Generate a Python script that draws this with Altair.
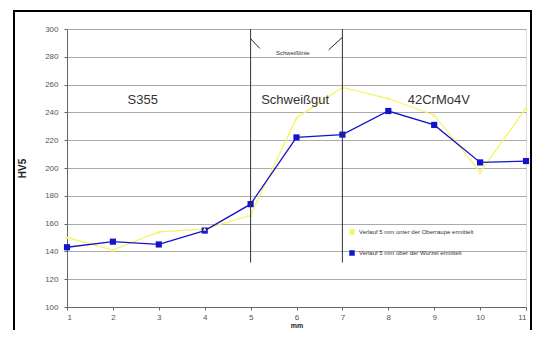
import altair as alt
import pandas as pd

positions = [1, 2, 3, 4, 5, 6, 7, 8, 9, 10, 11]
upper_hv = [150, 141, 154, 156, 166, 236, 258, 250, 238, 197, 243]
root_hv = [143, 147, 145, 155, 174, 222, 224, 241, 231, 204, 205]
series_names = ["Verlauf 5 mm unter der Oberraupe ermittelt",
                "Verlauf 5 mm über der Wurzel ermittelt"]

zone_labels = ["S355", "Schweißgut", "42CrMo4V"]
zone_x = [2.65, 5.97, 9.1]
zone_y = [249, 249, 249]

fusion_x = [5, 7]
fusion_top = [300, 300]
fusion_bottom = [132, 132]

rows = []
for p, u, r in zip(positions, upper_hv, root_hv):
    rows.append({"mm": p, "HV5": u, "Serie": series_names[0]})
    rows.append({"mm": p, "HV5": r, "Serie": series_names[1]})
df = pd.DataFrame(rows)

xs = alt.Scale(domain=[1, 11], nice=False, zero=False)
ys = alt.Scale(domain=[100, 300], nice=False, zero=False)

color = alt.Color("Serie:N", sort=series_names,
                  scale=alt.Scale(domain=series_names, range=["#f4f46a", "#1414c8"]),
                  legend=alt.Legend(title=None, orient="none", legendX=282, legendY=200,
                                    labelFontSize=6, labelColor="#333", symbolSize=30,
                                    rowPadding=15, symbolType="square", symbolStrokeWidth=0))

xaxis = alt.Axis(title="mm", values=positions, grid=False, labelFontSize=8, labelColor="#555",
                 titleFontSize=7, titleFontWeight="bold", titlePadding=0, titleColor="#222",
                 domainColor="#666", tickColor="#666", tickSize=3, labelPadding=3)
yaxis = alt.Axis(title="HV5", values=list(range(100, 301, 20)), grid=True, gridColor="#aaa",
                 labelFontSize=8, labelColor="#555", labelOverlap=False, titleFontSize=10,
                 titleFontWeight="bold", titlePadding=17, titleColor="#222", domainColor="#666",
                 tickColor="#666", tickSize=3, labelPadding=6)


def X(field):
    return alt.X(field, scale=xs, axis=xaxis, title="mm")


def Y(field):
    return alt.Y(field, scale=ys, axis=yaxis, title="HV5")


base = alt.Chart(df).encode(x=X("mm:Q"), y=Y("HV5:Q"), color=color)

lines = base.mark_line(strokeWidth=1.3)
points = base.mark_point(shape="square", filled=True, size=38, opacity=1).transform_filter(
    alt.datum.Serie == series_names[1])
points_y = base.mark_point(shape="triangle-up", filled=True, size=14, opacity=1).transform_filter(
    alt.datum.Serie == series_names[0])

fus = pd.DataFrame({"x": fusion_x, "top": fusion_top, "bottom": fusion_bottom})
vlines = alt.Chart(fus).mark_rule(color="#333", strokeWidth=1).encode(
    x=X("x:Q"), y=Y("top:Q"), y2="bottom:Q")

zones = pd.DataFrame({"t": zone_labels, "x": zone_x, "y": zone_y})
ztext = alt.Chart(zones).mark_text(fontSize=13, color="#333").encode(
    x=X("x:Q"), y=Y("y:Q"), text="t:N")

ann = pd.DataFrame({"t": ["Schweißlinie"], "x": [5.92], "y": [283]})
atext = alt.Chart(ann).mark_text(fontSize=6, color="#333").encode(
    x=X("x:Q"), y=Y("y:Q"), text="t:N")

arrow_x1 = [5.0, 7.0]
arrow_y1 = [293, 294]
arrow_x2 = [5.2, 6.7]
arrow_y2 = [286, 285]
arr = pd.DataFrame({"x": arrow_x1, "y": arrow_y1, "x2": arrow_x2, "y2": arrow_y2})
arrows = alt.Chart(arr).mark_rule(color="#222", strokeWidth=1).encode(
    x=X("x:Q"), y=Y("y:Q"), x2="x2:Q", y2="y2:Q")

frame = alt.Chart(pd.DataFrame({"a": [0]})).mark_rect(
    fill=None, stroke="#000", strokeWidth=2, clip=False).encode(
    x=alt.value(-53), x2=alt.value(464), y=alt.value(-18), y2=alt.value(340))

chart = alt.layer(lines, points, points_y, frame, vlines, ztext, atext, arrows).properties(
    width=459, height=278,
    autosize=alt.AutoSizeParams(type="none"),
    padding={"left": 59, "top": 21, "right": 7, "bottom": 23},
).configure_view(strokeWidth=0).configure(background="white", font="Liberation Sans")

chart.save("out.html", embed_options={"renderer": "svg", "actions": False})
